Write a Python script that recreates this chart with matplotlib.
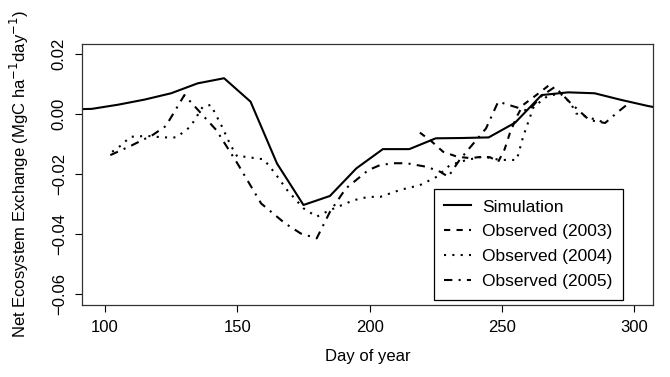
import matplotlib
matplotlib.use("Agg")
import matplotlib.pyplot as plt
import numpy as np

plt.rcParams['font.family'] = ['Liberation Sans', 'DejaVu Sans']

# Simulation
sim_day = [85, 95, 105, 115, 125, 135, 145, 155, 165, 175, 185, 195, 205, 215, 225,
           235, 245, 255, 265, 275, 285, 295, 305, 315]
sim_nee = [0.0015, 0.0017, 0.0031, 0.0048, 0.0069, 0.0102, 0.0119, 0.0041, -0.0165,
           -0.0303, -0.0273, -0.0181, -0.0117, -0.0117, -0.0081, -0.0080, -0.0078,
           -0.0029, 0.0063, 0.0072, 0.0069, 0.0047, 0.0027, 0.0010]

# Observed 2003
obs03_day = [219, 223.5, 227.8, 233, 238, 243, 245.5, 248.6, 251, 253, 255.6, 258, 263, 268]
obs03_nee = [-0.0062, -0.0092, -0.0126, -0.0142, -0.0147, -0.0142, -0.0144, -0.0159,
             -0.0118, -0.0064, -0.0009, 0.0030, 0.0063, 0.0097]

# Observed 2004
obs04_day = [102.7, 106, 109.6, 116, 122, 127, 132.3, 137, 140, 144.2, 147.4, 150, 152.4,
             160, 164.3, 168.8, 175, 180, 185, 194, 199.5, 204, 211.5, 219, 225.4, 230.4,
             236.7, 243, 249.2, 255.6, 258, 262, 267, 272, 276, 278, 284, 289]
obs04_nee = [-0.0126, -0.0105, -0.0076, -0.0073, -0.0078, -0.0078, -0.0042, 0.0025, 0.0030,
             -0.0042, -0.0103, -0.0142, -0.0142, -0.0151, -0.0198, -0.0253, -0.0314, -0.0342,
             -0.0320, -0.0287, -0.0276, -0.0276, -0.0253, -0.0237, -0.0209, -0.0170, -0.0153,
             -0.0142, -0.0153, -0.0153, -0.0076, 0.0024, 0.0058, 0.0069, 0.0036, 0.0002,
             -0.0015, -0.0029]

# Observed 2005
obs05_day = [102, 110, 118, 123, 130, 136, 142, 150, 159, 168, 174, 180, 185, 191, 199.5,
             204, 209, 214, 221.6, 226.6, 229.7, 234, 240, 244, 248.6, 255.6, 260, 265, 270,
             276, 283, 289, 294, 298]
obs05_nee = [-0.0137, -0.0105, -0.0070, -0.0040, 0.0063, 0.0005, -0.0053, -0.0164, -0.0298,
             -0.0364, -0.0398, -0.0414, -0.0326, -0.0248, -0.0187, -0.0170, -0.0164, -0.0164,
             -0.0176, -0.0192, -0.0209, -0.0153, -0.0090, -0.0048, 0.0041, 0.0022, 0.0010,
             0.0060, 0.0090, 0.0036, -0.0020, -0.0030, 0.0008, 0.0036]

x_ticks = [100, 150, 200, 250, 300]
y_ticks = [-0.06, -0.04, -0.02, 0.00, 0.02]

fig = plt.figure(figsize=(6.70, 3.77), dpi=100)
W, H = 670, 377
L, R, T, B = 82, 653, 44, 305
ax = fig.add_axes([L / W, 1 - B / H, (R - L) / W, (B - T) / H])

lw = 1.5
ax.plot(sim_day, sim_nee, color='black', lw=lw, linestyle='-', label='Simulation')
ax.plot(obs03_day, obs03_nee, color='black', lw=lw, linestyle=(0, (3, 3)), label='Observed (2003)')
ax.plot(obs04_day, obs04_nee, color='black', lw=lw, linestyle=(0, (1, 3)), label='Observed (2004)')
ax.plot(obs05_day, obs05_nee, color='black', lw=lw, linestyle=(0, (4, 3, 1, 3)), label='Observed (2005)')

ax.set_xlim(91.3, 307.1)
ax.set_ylim(-0.0636, 0.0233)
ax.set_xticks(x_ticks)
ax.set_xticklabels([str(t) for t in x_ticks])
ax.set_yticks(y_ticks)
ax.set_yticklabels(['\u22120.06', '\u22120.04', '\u22120.02', '0.00', '0.02'],
                   rotation=90, va='center')
ax.tick_params(direction='out', length=5, width=0.8, labelsize=12, pad=6, colors='black')
for s in ax.spines.values():
    s.set_linewidth(0.9)
    s.set_color('#333333')

ax.set_xlabel('Day of year', fontsize=12, labelpad=10)
ax.set_ylabel('Net Ecosystem Exchange (MgC ha$^{-1}$day$^{-1}$)', fontsize=12, labelpad=15)

leg = ax.legend(loc='upper left', bbox_to_anchor=((434 - L) / (R - L), (B - 189) / (B - T)),
                borderaxespad=0, fancybox=False, framealpha=1, edgecolor='black',
                fontsize=12.5, handlelength=1.55, handletextpad=0.6, borderpad=0.6,
                labelspacing=0.56)
leg.get_frame().set_linewidth(0.9)

fig.savefig('out.png', dpi=100)
